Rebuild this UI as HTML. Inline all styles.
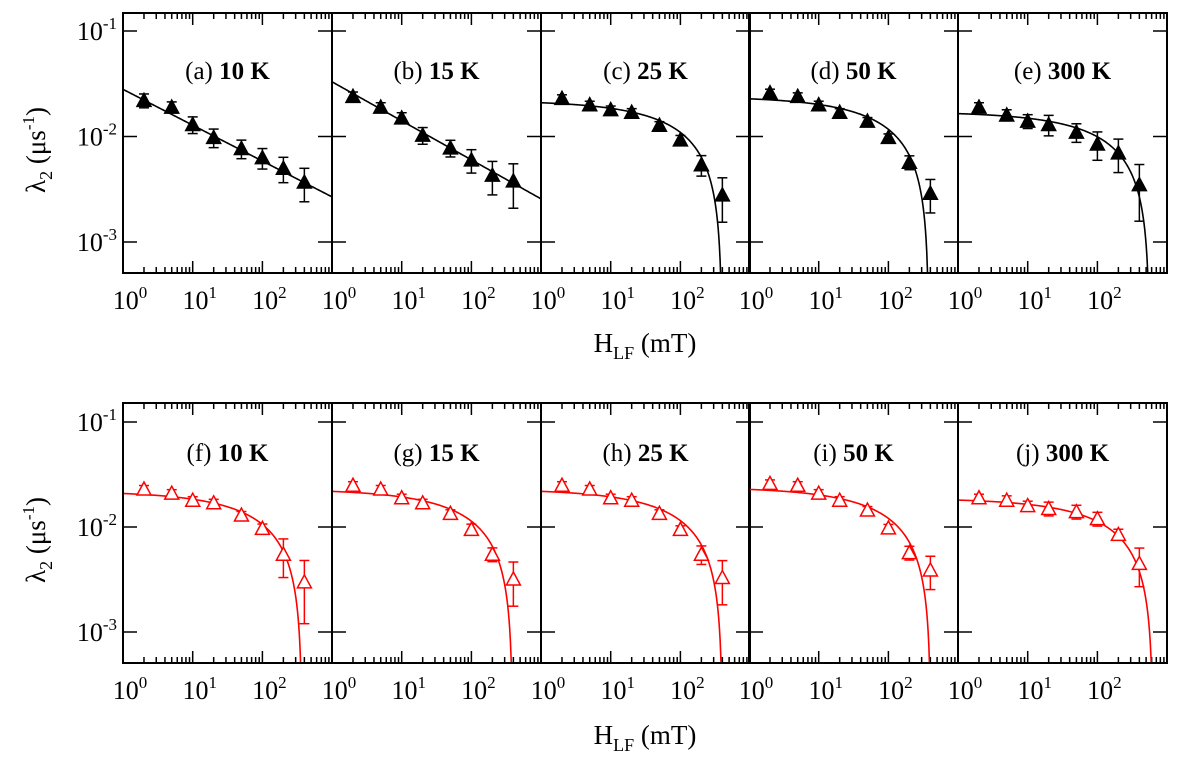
<!DOCTYPE html>
<html><head><meta charset="utf-8">
<style>
html,body{margin:0;padding:0;background:#fff;}
svg{display:block;font-family:"Liberation Serif",serif;}
</style></head>
<body>
<svg id="chart" width="1189" height="759" viewBox="0 0 1189 759"></svg>
<script>
const hValues = [2,5,10,20,50,100,200,400];
const panelLabels = ["(a)","(b)","(c)","(d)","(e)","(f)","(g)","(h)","(i)","(j)"];
const panelTemps = ["10 K","15 K","25 K","50 K","300 K","10 K","15 K","25 K","50 K","300 K"];
const seriesA = [0.022,0.019,0.013,0.0098,0.0077,0.0063,0.005,0.0037];
const seriesB = [0.024,0.019,0.015,0.0103,0.0078,0.006,0.0043,0.0038];
const seriesC = [0.023,0.020,0.018,0.017,0.0128,0.0093,0.0054,0.0028];
const seriesD = [0.026,0.024,0.020,0.017,0.014,0.0098,0.0057,0.0029];
const seriesE = [0.019,0.016,0.014,0.013,0.011,0.0085,0.007,0.0035];
const seriesF = [0.023,0.021,0.018,0.017,0.013,0.0097,0.0055,0.003];
const seriesG = [0.025,0.023,0.019,0.017,0.0135,0.0095,0.0055,0.0032];
const seriesH = [0.025,0.023,0.019,0.018,0.0135,0.0095,0.0055,0.0033];
const seriesI = [0.026,0.025,0.021,0.018,0.0145,0.0098,0.0057,0.0039];
const seriesJ = [0.019,0.018,0.016,0.015,0.014,0.012,0.0085,0.0045];
const errA = [0.15,0.12,0.18,0.2,0.2,0.22,0.27,0.35];
const errB = [0.1,0.1,0.12,0.18,0.18,0.25,0.35,0.45];
const errC = [0.08,0.08,0.08,0.08,0.08,0.1,0.22,0.45];
const errD = [0.08,0.08,0.08,0.08,0.08,0.08,0.15,0.35];
const errE = [0.1,0.12,0.15,0.22,0.2,0.3,0.35,0.55];
const errF = [0.08,0.08,0.08,0.08,0.08,0.1,0.4,0.6];
const errG = [0.08,0.08,0.08,0.08,0.08,0.12,0.15,0.45];
const errH = [0.08,0.08,0.08,0.08,0.08,0.08,0.2,0.45];
const errI = [0.08,0.08,0.08,0.08,0.08,0.08,0.15,0.35];
const errJ = [0.08,0.1,0.1,0.15,0.15,0.15,0.12,0.4];
const fitType = ["pow","pow","sat","sat","sat","sat","sat","sat","sat","sat"];
const fitP1 = [0.028,0.033,0.022,0.024,0.0172,0.022,0.023,0.023,0.024,0.0188];
const fitP2 = [-0.34,-0.37,395,380,560,370,390,400,405,625];

const allSeries=[seriesA,seriesB,seriesC,seriesD,seriesE,seriesF,seriesG,seriesH,seriesI,seriesJ];
const allErr=[errA,errB,errC,errD,errE,errF,errG,errH,errI,errJ];
const svg=document.getElementById('chart');
const NS='http://www.w3.org/2000/svg';
function el(t,a,p){const e=document.createElementNS(NS,t);for(const k in a)e.setAttribute(k,a[k]);(p||svg).appendChild(e);return e;}
const lefts=[123,332,541,749,958];const PW=209;
const rows=[{top:13,bot:273,y1:31,dec:105.5,lab:309,title:352,ytitle:150},{top:403,bot:663,y1:422,dec:105,lab:699,title:744,ytitle:540}];
const XDEC=69.7;
for(let r=0;r<2;r++){
 const R=rows[r];const color=r==0?'#000':'#f00';
 const yS=v=>R.y1-(Math.log10(v)+1)*R.dec;
 [-1,-2,-3].forEach(e=>{const t=el('text',{x:117,y:R.y1+(-1-e)*R.dec+9,'font-size':26,'text-anchor':'end'});
  
  t.innerHTML='10<tspan dy="-11" font-size="17">'+e+'</tspan>';});
 const yt=el('text',{x:0,y:0,'font-size':27,'text-anchor':'middle',transform:'translate(45,'+R.ytitle+') rotate(-90)'});
 
 yt.innerHTML='λ<tspan dy="7" font-size="18">2</tspan><tspan dy="-7"> (μs</tspan><tspan dy="-11" font-size="17">-1</tspan><tspan dy="11">)</tspan>';
 const xt=el('text',{x:645,y:R.title,'font-size':27,'text-anchor':'middle'});
 
 xt.innerHTML='H<tspan dy="7" font-size="18">LF</tspan><tspan dy="-7"> (mT)</tspan>';
 for(let c=0;c<5;c++){
  const idx=r*5+c;const L=lefts[c];
  const xS=h=>L+Math.log10(h)*XDEC;
  const g=el('g',{});
  const cid='clip'+idx;const cp=el('clipPath',{id:cid},g);el('rect',{x:L,y:R.top,width:PW,height:R.bot-R.top},cp);
  for(let d=0;d<3;d++)for(let m=1;m<=9;m++){
   const x=L+(d+Math.log10(m))*XDEC;const len=m==1?12:6;
   if(m==1&&d==0)continue;
   el('line',{x1:x,y1:R.top,x2:x,y2:R.top+len,stroke:'#000','stroke-width':1.5},g);
   el('line',{x1:x,y1:R.bot,x2:x,y2:R.bot-len,stroke:'#000','stroke-width':1.5},g);}
  [-1,-2,-3].forEach(e=>{const y=R.y1+(-1-e)*R.dec;
   el('line',{x1:L,y1:y,x2:L+14,y2:y,stroke:'#000','stroke-width':1.5},g);
   el('line',{x1:L+PW,y1:y,x2:L+PW-14,y2:y,stroke:'#000','stroke-width':1.5},g);});
  [0,1,2].forEach(e=>{const t=el('text',{x:L+e*XDEC+7,y:R.lab,'font-size':26,'text-anchor':'middle'},g);
   
   t.innerHTML='10<tspan dy="-11" font-size="17">'+e+'</tspan>';});
  const tt=el('text',{x:L+PW/2,y:r==0?79:461,'font-size':25,'text-anchor':'middle'},g);
  
  tt.innerHTML=panelLabels[idx]+' <tspan font-weight="bold">'+panelTemps[idx]+'</tspan>';
  let d='';const N=300;
  for(let i=0;i<=N;i++){const lh=3*i/N;const h=Math.pow(10,lh);let v;
   if(fitType[idx]=='pow')v=fitP1[idx]*Math.pow(h,fitP2[idx]);
   else{const q=1-Math.sqrt(h/fitP2[idx]);if(q<=0){d+='L'+xS(fitP2[idx])+','+(R.bot+5);break;}v=fitP1[idx]*q;}
   d+=(i?'L':'M')+xS(h).toFixed(2)+','+yS(v).toFixed(2);}
  const fl=el('path',{d:d,fill:'none',stroke:color,'stroke-width':1.6,'clip-path':'url(#'+cid+')'},g);
  
  const s=allSeries[idx],er=allErr[idx];
  hValues.forEach((h,i)=>{const x=xS(h),y=yS(s[i]),yu=yS(s[i]*(1+er[i])),yd=yS(s[i]*(1-er[i]));
   el('line',{x1:x,y1:yu,x2:x,y2:yd,stroke:color,'stroke-width':1.5},g);
   el('line',{x1:x-5,y1:yu,x2:x+5,y2:yu,stroke:color,'stroke-width':1.5},g);
   el('line',{x1:x-5,y1:yd,x2:x+5,y2:yd,stroke:color,'stroke-width':1.5},g);
   const p=el('polygon',{points:(x-7)+','+(y+6)+' '+(x+7)+','+(y+6)+' '+x+','+(y-7),fill:r==0?'#000':'#fff',stroke:color,'stroke-width':1.5},g);
   });
  el('rect',{x:L,y:R.top,width:PW,height:R.bot-R.top,fill:'none',stroke:'#000','stroke-width':2},g);
 }
}
</script>
</body></html>
